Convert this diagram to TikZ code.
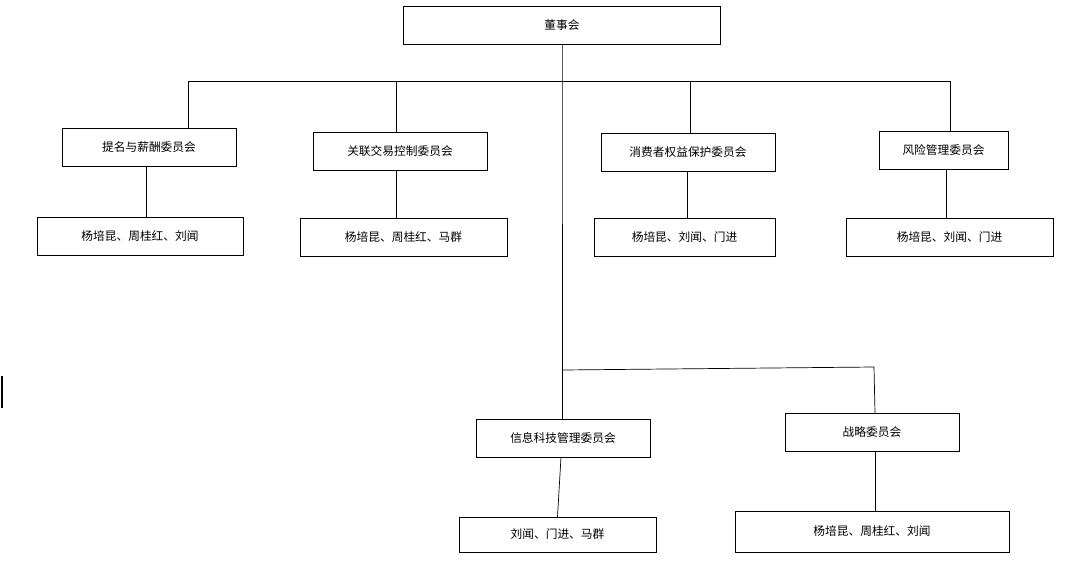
\documentclass[tikz,border=0pt]{standalone}
\usepackage{fontspec}
\newfontfamily\cjk{Noto Sans CJK SC}
\usetikzlibrary{positioning,calc}
\tikzset{%
	% Specifications for style of nodes:
	base/.style = {rectangle, draw=black, text centered, font=\cjk\fontsize{10pt}{12pt}\selectfont, inner sep=0pt},
	committee/.style = {base, minimum width=174*0.03cm, minimum height=38*0.03cm},
	members/.style = {base, minimum width=206*0.03cm, minimum height=38*0.03cm},
	link/.style = {draw=black, line width=0.6pt}
}
\begin{document}
\begin{tikzpicture}[x=0.03cm,y=-0.03cm]
	\useasboundingbox (0,0) rectangle (1084,574);
	% board
	\node (board) [base, minimum width=317*0.03cm, minimum height=38*0.03cm] at (562,25) {董事会};
	% first row
	\node (c1) [committee] at (149,147.5) {提名与薪酬委员会};
	\node (c2) [committee] at (400,151) {关联交易控制委员会};
	\node (c3) [committee] at (688,152.5) {消费者权益保护委员会};
	\node (c4) [committee, minimum width=129*0.03cm] at (943.5,150) {风险管理委员会};
	\node (m1) [members] at (140,236) {杨培昆、周桂红、刘闻};
	\node (m2) [members, minimum width=207*0.03cm] at (403.5,237) {杨培昆、周桂红、马群};
	\node (m3) [members, minimum width=181*0.03cm] at (684.5,237) {杨培昆、刘闻、门进};
	\node (m4) [members, minimum width=207*0.03cm] at (949.5,237.5) {杨培昆、刘闻、门进};
	% second row
	\node (c5) [committee] at (563,438) {信息科技管理委员会};
	\node (c6) [committee] at (872,432) {战略委员会};
	\node (m5) [members, minimum width=197*0.03cm, minimum height=35*0.03cm] at (557.5,534.5) {刘闻、门进、马群};
	\node (m6) [members, minimum width=274*0.03cm, minimum height=41*0.03cm] at (872,531.5) {杨培昆、周桂红、刘闻};
	% connectors
	\coordinate (bus) at (562,81);
	\coordinate (low) at (562,370);
	\draw[link] (board.south) -- (bus) -- (low);
	\draw[link] (188,81) -- (950,81);
	\draw[link] (188,81) -- (188,129);
	\draw[link] (396,81) -- (396,132);
	\draw[link] (690,81) -- (690,133);
	\draw[link] (950,81) -- (950,131);
	\draw[link] (146,166) -- (146,217);
	\draw[link] (396,170) -- (396,218);
	\draw[link] (687,172) -- (687,218);
	\draw[link] (946,169) -- (946,219);
	\draw[link] (low) -- (874,367) -- (875,413);
	\draw[link] (low) -- (562,419);
	\draw[link] (561,457) -- (m5.north);
	\draw[link] (875,451) -- (875,511);
	% cursor mark
	\draw[line width=1pt] (2,376) -- (2,408);
\end{tikzpicture}
\end{document}
